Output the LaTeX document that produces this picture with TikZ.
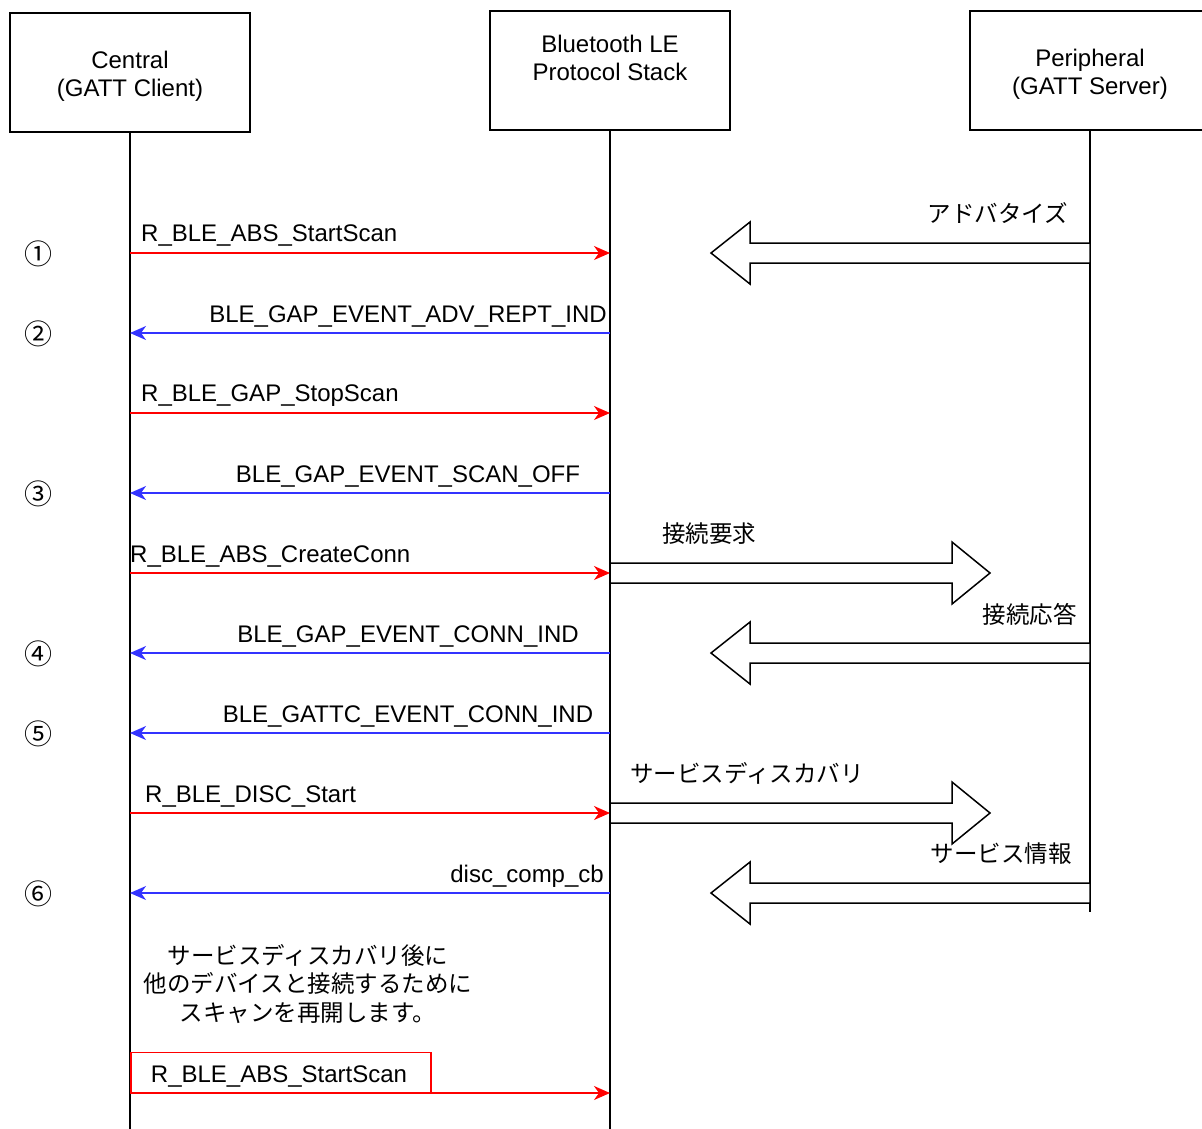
\documentclass[tikz,border=0pt]{standalone}
\usepackage{fontspec}
\setmainfont{Liberation Sans}
\newfontfamily\cjk{Noto Sans CJK JP}
\usetikzlibrary{arrows.meta}
\definecolor{msgred}{RGB}{255,0,0}
\definecolor{msgblue}{RGB}{51,51,255}
\begin{document}
\begin{tikzpicture}[x=1pt,y=-1pt,
  every node/.style={font=\fontsize{24}{28}\selectfont, inner sep=0pt},
  head/.style={draw, line width=1.3pt, minimum width=240pt, minimum height=119pt, align=center},
  life/.style={line width=1.3pt},
  req/.style={msgred, line width=1.5pt, -{Stealth[length=16pt,width=14pt,inset=5pt]}},
  rsp/.style={msgblue, line width=1.5pt, -{Stealth[length=16pt,width=14pt,inset=5pt]}},
  blk/.style={draw, line width=1.5pt, fill=white, line join=miter},
  jp/.style={font=\cjk\fontsize{23.5}{28.5}\selectfont},
  num/.style={font=\cjk\fontsize{28}{28}\selectfont}
]
\useasboundingbox (0,0) rectangle (1202,1128);
% heads
\node[head] (cen) at (130,72.5) {};
\node[align=center] (centxt) at (130,76) {Central\\(GATT Client)};
\node[head] (ble) at (610,70.5) {};
\node[align=center] (bletxt) at (610,58) {Bluetooth LE\\Protocol Stack};
\node[head] (per) at (1090,70.5) {};
\node[align=center] (pertxt) at (1090,74) {Peripheral\\(GATT Server)};
% lifelines
\coordinate (cenEnd) at (130,1130);
\coordinate (bleEnd) at (610,1130);
\coordinate (perEnd) at (1090,912);
\draw[life] (cen.south) -- (cenEnd);
\draw[life] (ble.south) -- (bleEnd);
\draw[life] (per.south) -- (perEnd);
% message coordinates
\foreach \i/\y in {1/253,2/333,3/413,4/493,5/573,6/653,7/733,8/813,9/893,10/1093}{
  \coordinate (c\i) at (130,\y);
  \coordinate (b\i) at (610,\y);
}
\draw[req] (c1) -- (b1);
\draw[rsp] (b2) -- (c2);
\draw[req] (c3) -- (b3);
\draw[rsp] (b4) -- (c4);
\draw[req] (c5) -- (b5);
\draw[rsp] (b6) -- (c6);
\draw[rsp] (b7) -- (c7);
\draw[req] (c8) -- (b8);
\draw[rsp] (b9) -- (c9);
\draw[req] (c10) -- (b10);
% labels
\node[anchor=west] (l1) at (141,235) {R\_BLE\_ABS\_StartScan};
\node[anchor=east] (l2) at (607,316) {BLE\_GAP\_EVENT\_ADV\_REPT\_IND};
\node[anchor=west] (l3) at (141,396) {R\_BLE\_GAP\_StopScan};
\node (l4) at (408,476) {BLE\_GAP\_EVENT\_SCAN\_OFF};
\node[anchor=west] (l5) at (130,556) {R\_BLE\_ABS\_CreateConn};
\node (l6) at (408,636) {BLE\_GAP\_EVENT\_CONN\_IND};
\node (l7) at (408,716) {BLE\_GATTC\_EVENT\_CONN\_IND};
\node[anchor=west] (l8) at (145,796) {R\_BLE\_DISC\_Start};
\node[anchor=east] (l9) at (604,876) {disc\_comp\_cb};
\node[draw=msgred, line width=1.5pt, minimum width=300pt, minimum height=40pt, anchor=south west] (l10) at (c10) {};
\node (l10t) at (279,1076) {R\_BLE\_ABS\_StartScan};
% circled numbers
\node[num] (n1) at (38,254) {①};
\node[num] (n2) at (38,334) {②};
\node[num] (n3) at (38,494) {③};
\node[num] (n4) at (38,654) {④};
\node[num] (n5) at (38,734) {⑤};
\node[num] (n6) at (38,894) {⑥};
% block arrows to central side (left-pointing)
\foreach \y in {253,653,893}{
  \draw[blk] (1090,\y-10) -- (750,\y-10) -- (750,\y-31) -- (711,\y) -- (750,\y+31) -- (750,\y+10) -- (1090,\y+10) -- cycle;
}
% block arrows to peripheral side (right-pointing)
\foreach \y in {573,813}{
  \draw[blk] (610,\y-10) -- (952,\y-10) -- (952,\y-31) -- (990,\y) -- (952,\y+31) -- (952,\y+10) -- (610,\y+10) -- cycle;
}
% Japanese labels
\node[jp, anchor=east] (j1) at (1068,213) {アドバタイズ};
\node[jp, anchor=west] (j2) at (662,534) {接続要求};
\node[jp, anchor=east] (j3) at (1077,614) {接続応答};
\node[jp, anchor=west] (j4) at (630,773) {サービスディスカバリ};
\node[jp, anchor=east] (j5) at (1072,854) {サービス情報};
\node[jp, align=center] (note) at (308,984) {サービスディスカバリ後に\\他のデバイスと接続するために\\スキャンを再開します。};
\end{tikzpicture}
\end{document}
